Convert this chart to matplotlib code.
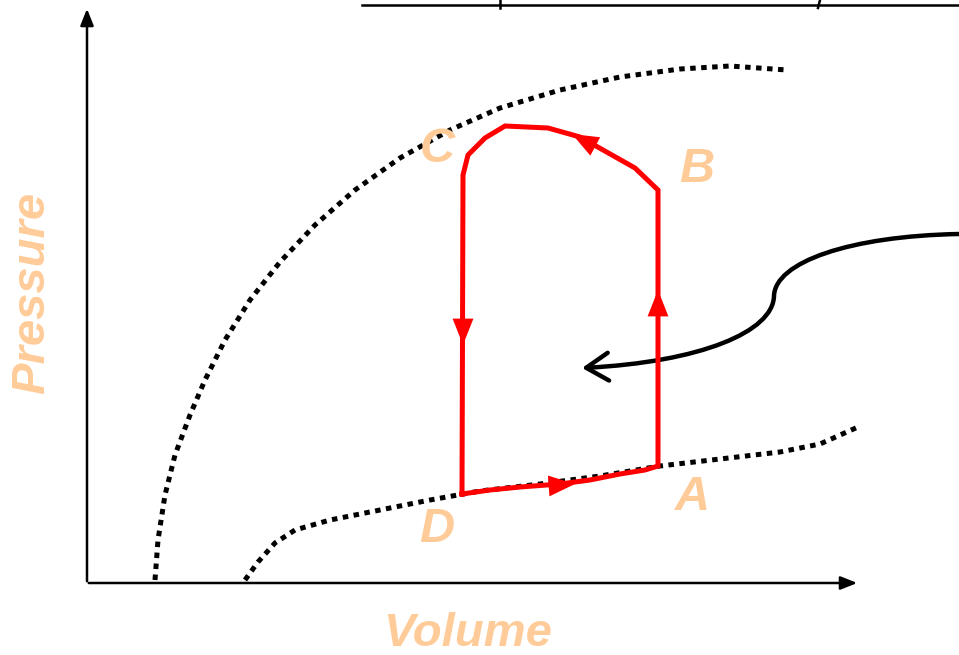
import numpy as np
import matplotlib
matplotlib.use('Agg')
import matplotlib.pyplot as plt
from matplotlib.path import Path
from matplotlib.patches import FancyArrowPatch

# schematic drawn in pixel coordinates of the 959x655 canvas
upper_x = [155, 158, 165, 175, 190, 205, 225, 250, 280, 315, 355, 400, 450, 500, 560, 620, 680, 730, 787]
upper_y = [580, 540, 495, 455, 415, 380, 340, 300, 262, 225, 190, 158, 130, 108, 90, 77, 69, 66, 70]

lower_x = [245, 258, 275, 295, 330, 380, 430, 480, 540, 600, 660, 720, 780, 820, 858]
lower_y = [580, 562, 543, 530, 520, 510, 500, 491, 484, 476, 466, 459, 452, 444, 427]

loop_x = [462, 463, 468, 485, 505, 548, 580, 635, 658, 658, 645, 620, 590, 560, 520, 490, 462]
loop_y = [494, 175, 155, 138, 126, 128, 137, 168, 190, 466, 470, 474, 480, 484, 487, 490, 494]

labels = ['A', 'B', 'C', 'D']
label_x = [693, 697, 437, 437]
label_y = [497, 170, 150, 530]

LABEL_COLOR = '#FFCC99'

fig = plt.figure(figsize=(9.59, 6.55), dpi=100)
ax = fig.add_axes([0, 0, 1, 1])
ax.set_xlim(0, 959)
ax.set_ylim(655, 0)
ax.axis('off')

# axes with arrowheads
ax.annotate('', xy=(87, 6), xytext=(87, 584),
            arrowprops=dict(arrowstyle='-|>,head_length=1.0,head_width=0.4', color='black', lw=1.8))
ax.annotate('', xy=(860, 583), xytext=(86, 583),
            arrowprops=dict(arrowstyle='-|>,head_length=1.0,head_width=0.4', color='black', lw=1.8))

# cut-off title underline at the top
ax.plot([362, 959], [5, 5], color='black', lw=1.8)
ax.plot([500, 500], [0, 8], color='black', lw=1.8)
ax.plot([820, 818], [0, 8], color='black', lw=1.8)

# dotted curves
ax.plot(upper_x, upper_y, color='black', lw=3.6, linestyle=(0, (1.1, 1.1)), dash_capstyle='butt')
ax.plot(lower_x, lower_y, color='black', lw=3.6, linestyle=(0, (1.1, 1.1)), dash_capstyle='butt')

# red cycle
ax.plot(loop_x, loop_y, color='red', lw=3.6, solid_joinstyle='miter')

head = dict(arrowstyle='-|>,head_length=1.9,head_width=0.75', color='red', lw=0, shrinkA=0, shrinkB=0)
ax.annotate('', xy=(463, 345), xytext=(463, 320), arrowprops=head)
ax.annotate('', xy=(658, 290), xytext=(658, 315), arrowprops=head)
ax.annotate('', xy=(572, 134), xytext=(600, 149), arrowprops=head)
ax.annotate('', xy=(575, 484), xytext=(548, 486), arrowprops=head)

# curved black pointer
verts = [(959, 234), (850, 236), (775, 262), (774, 296),
         (773, 332), (700, 362), (582, 368)]
codes = [Path.MOVETO, Path.CURVE4, Path.CURVE4, Path.CURVE4,
         Path.CURVE4, Path.CURVE4, Path.CURVE4]
pointer = FancyArrowPatch(path=Path(verts, codes),
                          arrowstyle='->,head_length=8,head_width=5',
                          color='black', lw=3.2, mutation_scale=2)
ax.add_patch(pointer)

for lab, x, y in zip(labels, label_x, label_y):
    ax.text(x, y, lab, color=LABEL_COLOR, fontsize=35, fontweight='bold', fontstyle='italic',
            family='Liberation Sans', ha='center', va='center')

ax.text(467, 634, 'Volume', color=LABEL_COLOR, fontsize=34, fontweight='bold', fontstyle='italic',
        family='Liberation Sans', ha='center', va='center')
ax.text(32, 293, 'Pressure', color=LABEL_COLOR, fontsize=34, fontweight='bold', fontstyle='italic',
        family='Liberation Sans', ha='center', va='center', rotation=90)

fig.savefig('out.png', dpi=100)
